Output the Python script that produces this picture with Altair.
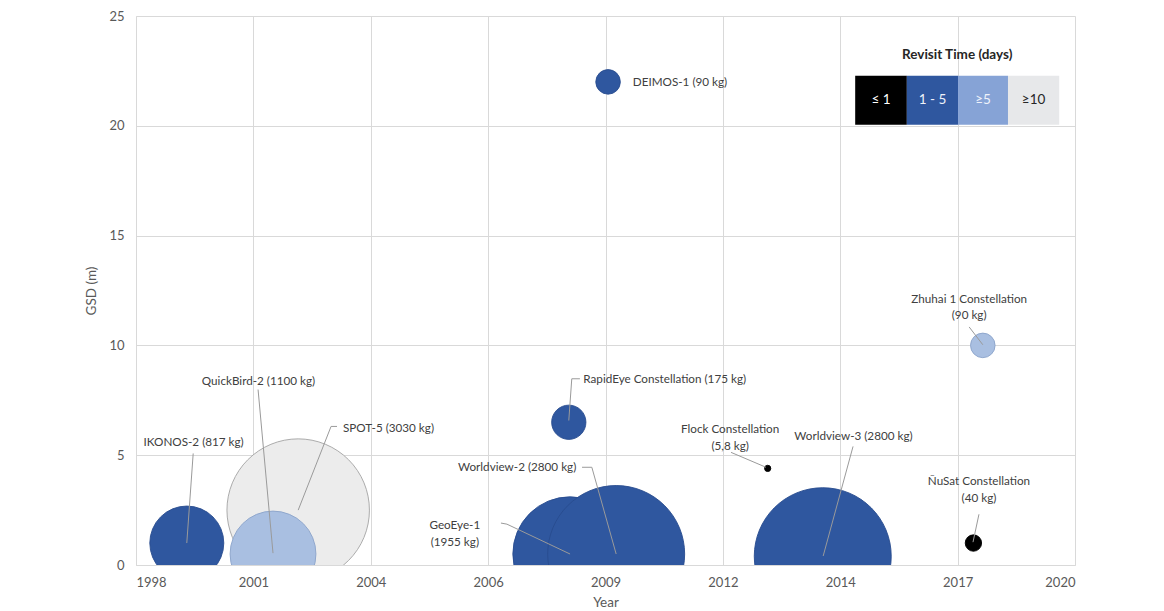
import altair as alt
import pandas as pd

# ---- bubble data ----
names = ["SPOT-5", "QuickBird-2", "GeoEye-1", "Worldview-2", "IKONOS-2", "RapidEye",
         "DEIMOS-1", "Flock", "Worldview-3", "ÑuSat", "Zhuhai-1"]
years = [2001.80, 2001.21, 2008.17, 2009.25, 1999.19, 2008.14,
         2009.06, 2012.80, 2014.09, 2017.62, 2017.84]
gsd = [2.5, 0.5, 0.5, 0.5, 1.0, 6.5, 22.0, 4.4, 0.4, 1.0, 10.0]
mass = [3030, 1100, 1955, 2800, 817, 175, 90, 5.8, 2800, 40, 90]
revisit = ["≥10", "≥5", "1 - 5", "1 - 5", "1 - 5", "1 - 5",
           "1 - 5", "≤ 1", "1 - 5", "≤ 1", "≥5"]

cat_domain = ["≤ 1", "1 - 5", "≥5", "≥10"]
bubble_fill = ["#000000", "#2f579f", "#a9bfe1", "#ececec"]
bubble_stroke = ["#000000", "#284c8f", "#8aa3c9", "#a3a3a3"]

# ---- annotation labels ----
lab_text = ["IKONOS-2 (817 kg)", "QuickBird-2 (1100 kg)", "SPOT-5 (3030 kg)",
            "RapidEye Constellation (175 kg)", "DEIMOS-1 (90 kg)",
            "Flock Constellation\n(5,8 kg)", "Worldview-2 (2800 kg)", "GeoEye-1\n(1955 kg)",
            "Worldview-3 (2800 kg)", "Zhuhai 1 Constellation\n(90 kg)", "ÑuSat Constellation\n(40 kg)"]
lab_x = [1999.35, 2000.87, 2002.85, 2008.48, 2009.64, 2011.92, 2006.93, 2005.47,
         2014.81, 2017.52, 2017.75]
lab_y = [5.58, 8.39, 6.26, 8.48, 22.0, 6.18, 4.45, 1.82, 5.87, 12.12, 3.82]
lab_align = ["center", "center", "left", "left", "left", "center", "center", "center",
             "center", "center", "center"]

# ---- leader lines (polyline vertices, data units) ----
lead_id = ["ik", "ik", "qb", "qb", "sp", "sp", "sp", "re", "re", "re", "fl", "fl",
           "w2", "w2", "w2", "ge", "ge", "ge", "w3", "w3", "zh", "zh", "nu", "nu"]
lead_x = [1999.34, 1999.19, 2000.86, 2001.21, 2002.71, 2002.57, 2001.80,
          2008.40, 2008.21, 2008.14, 2011.94, 2012.76,
          2008.45, 2008.68, 2009.25, 2006.55, 2006.69, 2008.17,
          2014.80, 2014.10, 2017.52, 2017.84, 2017.75, 2017.61]
lead_y = [5.08, 1.0, 7.99, 0.54, 6.31, 6.31, 2.50,
          8.48, 8.48, 6.58, 5.13, 4.45,
          4.45, 4.45, 0.5, 1.91, 1.86, 0.5,
          5.40, 0.41, 10.84, 10.03, 2.31, 1.04]

# ---- custom revisit-time legend ----
leg_labels = ["≤ 1", "1 - 5", "≥5", "≥10"]
leg_x0 = [2014.85, 2016.06, 2017.26, 2018.43]
leg_x1 = [2016.06, 2017.26, 2018.43, 2019.63]
leg_fill = ["#000000", "#2f579f", "#86a3d6", "#e7e8ea"]
leg_textcol = ["#ffffff", "#eef2fa", "#eef2fa", "#262626"]
leg_y0, leg_y1, leg_ymid, leg_title_y = 20.05, 22.28, 21.17, 23.23
leg_title = "Revisit Time (days)"

# ---- axes ----
x_ticks = [1998, 2000.75, 2003.5, 2006.25, 2009, 2011.75, 2014.5, 2017.25, 2020]
x_tick_labels = ["1998", "2001", "2004", "2006", "2009", "2012", "2014", "2017", "2020"]
y_ticks = [0, 5, 10, 15, 20, 25]

FONT = "Lato"

bubbles = pd.DataFrame({"name": names, "year": years, "gsd": gsd, "mass": mass,
                        "revisit": revisit, "z": list(range(len(names)))})
labels = pd.DataFrame({"text": lab_text, "x": lab_x, "y": lab_y, "align": lab_align})
leads = pd.DataFrame({"id": lead_id, "x": lead_x, "y": lead_y,
                      "k": list(range(len(lead_id)))})
legend = pd.DataFrame({"label": leg_labels, "x0": leg_x0, "x1": leg_x1,
                       "fill": leg_fill, "tc": leg_textcol,
                       "xm": [(a + b) / 2 for a, b in zip(leg_x0, leg_x1)],
                       "y0": leg_y0, "y1": leg_y1, "ym": leg_ymid})
legtitle = pd.DataFrame({"t": [leg_title], "x": [(leg_x0[0] + leg_x1[-1]) / 2],
                         "y": [leg_title_y]})

label_expr = "[" + ",".join("'%s'" % s for s in x_tick_labels) + "][round((datum.value-1998)/2.75)]"

xs = alt.Scale(domain=[1998, 2020], nice=False, zero=False)
ys = alt.Scale(domain=[0, 25], nice=False)

X = alt.X("year:Q", scale=xs, title="Year",
          axis=alt.Axis(values=x_ticks, labelExpr=label_expr, labelPadding=11,
                        titlePadding=6))
Y = alt.Y("gsd:Q", scale=ys, title="GSD (m)",
          axis=alt.Axis(values=y_ticks, labelPadding=12, titlePadding=10))

# bubble area proportional to mass (size = bounding-box area of the circle)
bub = alt.Chart(bubbles).mark_circle(opacity=1, strokeWidth=0.9, clip=True).encode(
    x=X, y=Y,
    size=alt.Size("mass:Q", scale=alt.Scale(type="linear", domain=[0, 3030],
                                            range=[0, 20300]), legend=None),
    color=alt.Color("revisit:N", scale=alt.Scale(domain=cat_domain, range=bubble_fill),
                    legend=None),
    stroke=alt.Stroke("revisit:N", scale=alt.Scale(domain=cat_domain, range=bubble_stroke),
                      legend=None),
    order=alt.Order("z:Q"),
)

lines = alt.Chart(leads).mark_line(color="#9a9a9a", strokeWidth=1).encode(
    x=alt.X("x:Q", scale=xs), y=alt.Y("y:Q", scale=ys),
    detail="id:N", order="k:Q")

txt_kw = dict(font=FONT, fontSize=11.7, color="#404040", lineBreak="\n", lineHeight=16.5,
              baseline="middle")
txt_c = alt.Chart(labels).transform_filter("datum.align == 'center'").mark_text(
    align="center", **txt_kw).encode(x=alt.X("x:Q", scale=xs), y=alt.Y("y:Q", scale=ys),
                                     text="text:N")
txt_l = alt.Chart(labels).transform_filter("datum.align == 'left'").mark_text(
    align="left", **txt_kw).encode(x=alt.X("x:Q", scale=xs), y=alt.Y("y:Q", scale=ys),
                                   text="text:N")

leg_rect = alt.Chart(legend).mark_rect().encode(
    x=alt.X("x0:Q", scale=xs), x2="x1:Q", y=alt.Y("y0:Q", scale=ys), y2="y1:Q",
    fill=alt.Fill("fill:N", scale=None))
leg_txt = alt.Chart(legend).mark_text(font=FONT, fontSize=13.5, baseline="middle").encode(
    x=alt.X("xm:Q", scale=xs), y=alt.Y("ym:Q", scale=ys), text="label:N",
    color=alt.Color("tc:N", scale=None))
leg_ttl = alt.Chart(legtitle).mark_text(font=FONT, fontSize=13.5, fontWeight="bold",
                                        color="#262626", baseline="middle").encode(
    x=alt.X("x:Q", scale=xs), y=alt.Y("y:Q", scale=ys), text="t:N")

chart = alt.layer(bub, lines, txt_c, txt_l, leg_rect, leg_txt, leg_ttl).properties(
    width=939, height=549,
    autosize=alt.AutoSizeParams(type="none"),
    padding={"left": 128, "top": 8, "right": 80, "bottom": 45},
    background="white",
).configure_view(stroke=None).configure_axis(
    labelFont=FONT, labelFontSize=13, labelColor="#595959",
    titleFont=FONT, titleFontSize=13.5, titleColor="#595959", titleFontWeight="normal",
    gridColor="#d9d9d9", domainColor="#d9d9d9", ticks=False, grid=True,
)

chart.save("out.html", embed_options={"renderer": "svg", "actions": False})
